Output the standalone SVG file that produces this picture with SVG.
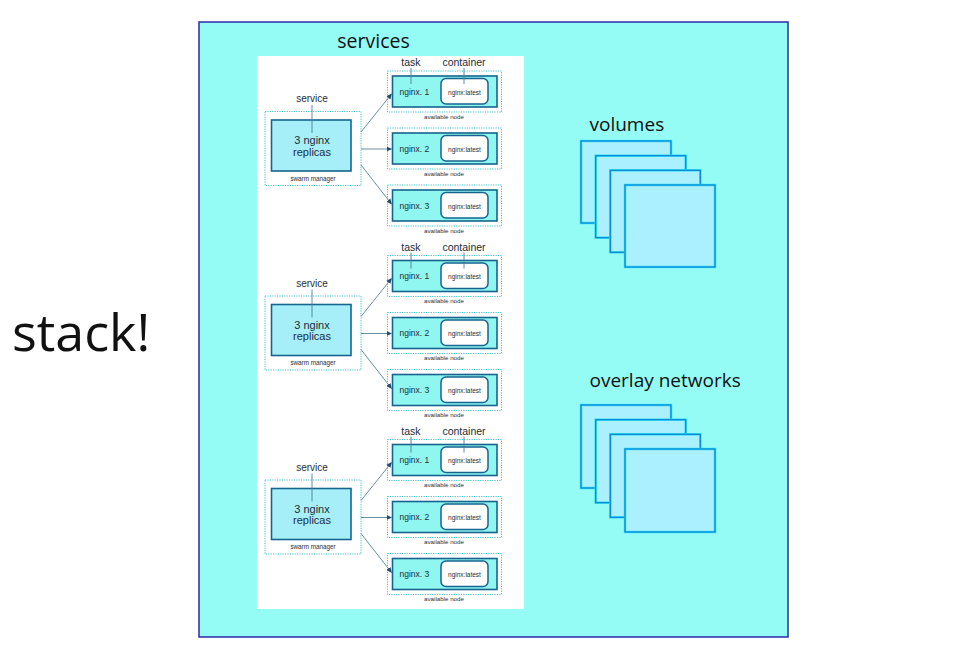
<svg xmlns="http://www.w3.org/2000/svg" width="974" height="659" viewBox="0 0 974 659">
<style>
.big{font-family:"Open Sans","Liberation Sans",sans-serif;fill:#111;}
.sm{font-family:"Liberation Sans",Arial,sans-serif;fill:#1c2e3c;}
.dot{fill:none;stroke:#3cc4cc;stroke-width:1;stroke-dasharray:1.2 1.2;}
.task{fill:#8ff6f0;stroke:#17648f;stroke-width:1.6;}
.svc{fill:#a6eef8;stroke:#17648f;stroke-width:1.6;}
.ctr{fill:#ffffff;stroke:#17648f;stroke-width:1.5;}
.lbl{stroke:#4d7f95;stroke-width:0.9;}
.conn{stroke:#6a8fa3;stroke-width:1;fill:none;marker-end:url(#ah);}
.sqo{fill:#aaf0fe;stroke:#2adcf8;stroke-width:2.4;}
.sqi{fill:none;stroke:#0a7fd2;stroke-width:1.1;}
</style>
<defs>
<marker id="ah" markerWidth="6" markerHeight="6" refX="5" refY="3" orient="auto" markerUnits="userSpaceOnUse">
<path d="M0,0.5 L5.5,3 L0,5.5 z" fill="#1d4f6a"/>
</marker>
</defs>
<rect x="0" y="0" width="974" height="659" fill="#ffffff"/>
<g id="stack-frame">
<rect x="199" y="22" width="589" height="615" fill="#95fbf5" stroke="#2b2ba6" stroke-width="1.5"/>
</g>
<text id="stack-label" class="big" x="12" y="351" font-size="52">stack!</text>
<g id="services-panel">
<text class="big" x="373.5" y="47.5" font-size="19.5" text-anchor="middle">services</text>
<rect x="257" y="56" width="267" height="553" fill="#ffffff"/>
</g>

<g id="service-group-1">
<g id="service-1">
<rect class="dot" x="265" y="111.5" width="96" height="74"/>
<rect class="svc" x="271.5" y="120" width="79.5" height="51"/>
<line class="lbl" x1="312" y1="105" x2="312" y2="133"/>
<text class="sm" x="312" y="102" font-size="10" text-anchor="middle">service</text>
<text class="sm" x="312" y="144" font-size="11" text-anchor="middle">3 nginx</text>
<text class="sm" x="312" y="155.5" font-size="11" text-anchor="middle">replicas</text>
<text class="sm" x="313" y="180.5" font-size="6.3" text-anchor="middle">swarm manager</text>
</g>
<g id="node-1-1">
<rect class="dot" x="387.5" y="71" width="114" height="41"/>
<rect class="task" x="392.5" y="76" width="104.5" height="31"/>
<rect class="ctr" x="441" y="78.5" width="47" height="25.5" rx="5"/>
<line class="lbl" x1="411" y1="68" x2="411" y2="84"/>
<line class="lbl" x1="464" y1="68" x2="464" y2="84"/>
<text class="sm" x="411" y="66" font-size="10.5" text-anchor="middle">task</text>
<text class="sm" x="464" y="66" font-size="10.5" text-anchor="middle">container</text>
<text class="sm" x="399.5" y="94.5" font-size="8.5">nginx. 1</text>
<text class="sm" x="464.5" y="94.5" font-size="6.5" text-anchor="middle">nginx:latest</text>
<text class="sm" x="444" y="118.5" font-size="6.2" text-anchor="middle">available node</text>
</g>
<g id="node-1-2">
<rect class="dot" x="387.5" y="128" width="114" height="41"/>
<rect class="task" x="392.5" y="133" width="104.5" height="31"/>
<rect class="ctr" x="441" y="135.5" width="47" height="25.5" rx="5"/>
<text class="sm" x="399.5" y="151.5" font-size="8.5">nginx. 2</text>
<text class="sm" x="464.5" y="151.5" font-size="6.5" text-anchor="middle">nginx:latest</text>
<text class="sm" x="444" y="175.5" font-size="6.2" text-anchor="middle">available node</text>
</g>
<g id="node-1-3">
<rect class="dot" x="387.5" y="185" width="114" height="41"/>
<rect class="task" x="392.5" y="190" width="104.5" height="31"/>
<rect class="ctr" x="441" y="192.5" width="47" height="25.5" rx="5"/>
<text class="sm" x="399.5" y="208.5" font-size="8.5">nginx. 3</text>
<text class="sm" x="464.5" y="208.5" font-size="6.5" text-anchor="middle">nginx:latest</text>
<text class="sm" x="444" y="232.5" font-size="6.2" text-anchor="middle">available node</text>
</g>
</g>

<g id="service-group-2" transform="translate(0,184.5)">
<g id="service-2">
<rect class="dot" x="265" y="111.5" width="96" height="74"/>
<rect class="svc" x="271.5" y="120" width="79.5" height="51"/>
<line class="lbl" x1="312" y1="105" x2="312" y2="133"/>
<text class="sm" x="312" y="102" font-size="10" text-anchor="middle">service</text>
<text class="sm" x="312" y="144" font-size="11" text-anchor="middle">3 nginx</text>
<text class="sm" x="312" y="155.5" font-size="11" text-anchor="middle">replicas</text>
<text class="sm" x="313" y="180.5" font-size="6.3" text-anchor="middle">swarm manager</text>
</g>
<g id="node-2-1">
<rect class="dot" x="387.5" y="71" width="114" height="41"/>
<rect class="task" x="392.5" y="76" width="104.5" height="31"/>
<rect class="ctr" x="441" y="78.5" width="47" height="25.5" rx="5"/>
<line class="lbl" x1="411" y1="68" x2="411" y2="84"/>
<line class="lbl" x1="464" y1="68" x2="464" y2="84"/>
<text class="sm" x="411" y="66" font-size="10.5" text-anchor="middle">task</text>
<text class="sm" x="464" y="66" font-size="10.5" text-anchor="middle">container</text>
<text class="sm" x="399.5" y="94.5" font-size="8.5">nginx. 1</text>
<text class="sm" x="464.5" y="94.5" font-size="6.5" text-anchor="middle">nginx:latest</text>
<text class="sm" x="444" y="118.5" font-size="6.2" text-anchor="middle">available node</text>
</g>
<g id="node-2-2">
<rect class="dot" x="387.5" y="128" width="114" height="41"/>
<rect class="task" x="392.5" y="133" width="104.5" height="31"/>
<rect class="ctr" x="441" y="135.5" width="47" height="25.5" rx="5"/>
<text class="sm" x="399.5" y="151.5" font-size="8.5">nginx. 2</text>
<text class="sm" x="464.5" y="151.5" font-size="6.5" text-anchor="middle">nginx:latest</text>
<text class="sm" x="444" y="175.5" font-size="6.2" text-anchor="middle">available node</text>
</g>
<g id="node-2-3">
<rect class="dot" x="387.5" y="185" width="114" height="41"/>
<rect class="task" x="392.5" y="190" width="104.5" height="31"/>
<rect class="ctr" x="441" y="192.5" width="47" height="25.5" rx="5"/>
<text class="sm" x="399.5" y="208.5" font-size="8.5">nginx. 3</text>
<text class="sm" x="464.5" y="208.5" font-size="6.5" text-anchor="middle">nginx:latest</text>
<text class="sm" x="444" y="232.5" font-size="6.2" text-anchor="middle">available node</text>
</g>
</g>

<g id="service-group-3" transform="translate(0,368.5)">
<g id="service-3">
<rect class="dot" x="265" y="111.5" width="96" height="74"/>
<rect class="svc" x="271.5" y="120" width="79.5" height="51"/>
<line class="lbl" x1="312" y1="105" x2="312" y2="133"/>
<text class="sm" x="312" y="102" font-size="10" text-anchor="middle">service</text>
<text class="sm" x="312" y="144" font-size="11" text-anchor="middle">3 nginx</text>
<text class="sm" x="312" y="155.5" font-size="11" text-anchor="middle">replicas</text>
<text class="sm" x="313" y="180.5" font-size="6.3" text-anchor="middle">swarm manager</text>
</g>
<g id="node-3-1">
<rect class="dot" x="387.5" y="71" width="114" height="41"/>
<rect class="task" x="392.5" y="76" width="104.5" height="31"/>
<rect class="ctr" x="441" y="78.5" width="47" height="25.5" rx="5"/>
<line class="lbl" x1="411" y1="68" x2="411" y2="84"/>
<line class="lbl" x1="464" y1="68" x2="464" y2="84"/>
<text class="sm" x="411" y="66" font-size="10.5" text-anchor="middle">task</text>
<text class="sm" x="464" y="66" font-size="10.5" text-anchor="middle">container</text>
<text class="sm" x="399.5" y="94.5" font-size="8.5">nginx. 1</text>
<text class="sm" x="464.5" y="94.5" font-size="6.5" text-anchor="middle">nginx:latest</text>
<text class="sm" x="444" y="118.5" font-size="6.2" text-anchor="middle">available node</text>
</g>
<g id="node-3-2">
<rect class="dot" x="387.5" y="128" width="114" height="41"/>
<rect class="task" x="392.5" y="133" width="104.5" height="31"/>
<rect class="ctr" x="441" y="135.5" width="47" height="25.5" rx="5"/>
<text class="sm" x="399.5" y="151.5" font-size="8.5">nginx. 2</text>
<text class="sm" x="464.5" y="151.5" font-size="6.5" text-anchor="middle">nginx:latest</text>
<text class="sm" x="444" y="175.5" font-size="6.2" text-anchor="middle">available node</text>
</g>
<g id="node-3-3">
<rect class="dot" x="387.5" y="185" width="114" height="41"/>
<rect class="task" x="392.5" y="190" width="104.5" height="31"/>
<rect class="ctr" x="441" y="192.5" width="47" height="25.5" rx="5"/>
<text class="sm" x="399.5" y="208.5" font-size="8.5">nginx. 3</text>
<text class="sm" x="464.5" y="208.5" font-size="6.5" text-anchor="middle">nginx:latest</text>
<text class="sm" x="444" y="232.5" font-size="6.2" text-anchor="middle">available node</text>
</g>
</g>

<g id="connectors">
<path class="conn" d="M361,132 L391.5,94"/>
<path class="conn" d="M361,149 L391.5,149"/>
<path class="conn" d="M361,165 L391.5,204"/>
<path class="conn" d="M361,316.5 L391.5,278.5"/>
<path class="conn" d="M361,333.5 L391.5,333.5"/>
<path class="conn" d="M361,349.5 L391.5,388.5"/>
<path class="conn" d="M361,500.5 L391.5,462.5"/>
<path class="conn" d="M361,517.5 L391.5,517.5"/>
<path class="conn" d="M361,533.5 L391.5,572.5"/>
</g>

<g id="volumes">
<text class="big" x="589.5" y="130.5" font-size="19">volumes</text>
<rect class="sqo" x="581" y="141" width="90" height="82"/><rect class="sqi" x="581" y="141" width="90" height="82"/>
<rect class="sqo" x="595.7" y="155.7" width="90" height="82"/><rect class="sqi" x="595.7" y="155.7" width="90" height="82"/>
<rect class="sqo" x="610.3" y="170.3" width="90" height="82"/><rect class="sqi" x="610.3" y="170.3" width="90" height="82"/>
<rect class="sqo" x="625" y="185" width="90" height="82"/><rect class="sqi" x="625" y="185" width="90" height="82"/>
</g>

<g id="overlay-networks">
<text class="big" x="589.5" y="386.5" font-size="19">overlay networks</text>
<rect class="sqo" x="581" y="405" width="90" height="83"/><rect class="sqi" x="581" y="405" width="90" height="83"/>
<rect class="sqo" x="595.7" y="419.7" width="90" height="83"/><rect class="sqi" x="595.7" y="419.7" width="90" height="83"/>
<rect class="sqo" x="610.3" y="434.3" width="90" height="83"/><rect class="sqi" x="610.3" y="434.3" width="90" height="83"/>
<rect class="sqo" x="625" y="449" width="90" height="83"/><rect class="sqi" x="625" y="449" width="90" height="83"/>
</g>
</svg>
